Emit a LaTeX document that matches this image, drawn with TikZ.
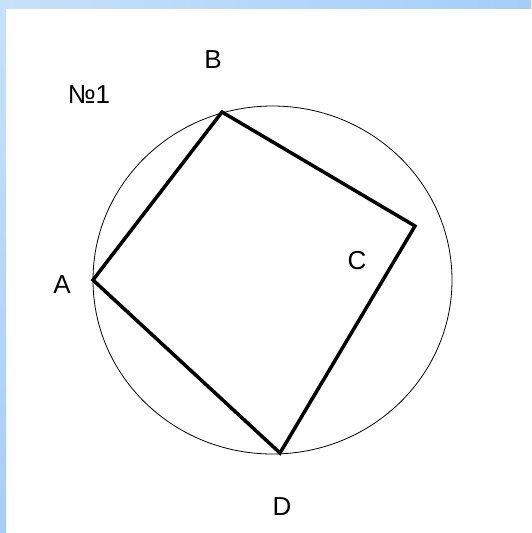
\documentclass[tikz,border=0pt]{standalone}
\usepackage{fontspec}
\setmainfont{Liberation Sans}
\definecolor{bandA}{RGB}{200,225,250}
\definecolor{bandB}{RGB}{165,205,250}
\begin{document}
\begin{tikzpicture}[x=1pt,y=-1pt,
  lbl/.style={font=\fontsize{26}{26}\selectfont, inner sep=0pt},
  side/.style={line width=3.5pt, line join=miter, black}]
\useasboundingbox (0,0) rectangle (531,533);
\fill[white] (0,0) rectangle (531,533);
\shade[top color=bandA, bottom color=bandB] (0,0) rectangle (6,533);
\shade[left color=bandA, right color=bandB] (0,0) rectangle (531,8);
\draw[line width=0.8pt] (272.5,280) ellipse [x radius=179.5, y radius=174];
\coordinate (A) at (93,280);
\coordinate (B) at (222,112);
\coordinate (C) at (415,226);
\coordinate (D) at (280,453);
\draw[side] (A) -- (B) -- (C) -- (D) -- cycle;
\node[lbl] (lA) at (62,285) {A};
\node[lbl] (lB) at (213,60) {B};
\node[lbl] (lC) at (357,261) {C};
\node[lbl] (lD) at (282,507) {D};
\node[lbl] (n1) at (89,95) {№1};
\end{tikzpicture}
\end{document}
